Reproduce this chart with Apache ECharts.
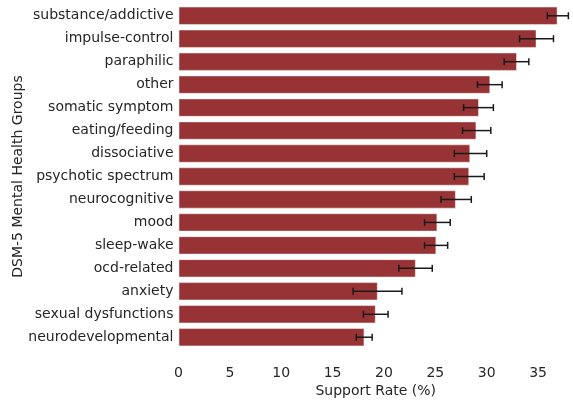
<!DOCTYPE html>
<html>
<head>
<meta charset="utf-8">
<script src="https://cdn.jsdelivr.net/npm/echarts@6/dist/echarts.min.js"></script>
<style>
  html, body { margin: 0; padding: 0; background: #fff; }
  #chart { width: 573px; height: 401px; }
</style>
</head>
<body>
<div id="chart"></div>
<script>
// DSM-5 groups, top to bottom
const groups = [
  'substance/addictive', 'impulse-control', 'paraphilic', 'other',
  'somatic symptom', 'eating/feeding', 'dissociative', 'psychotic spectrum',
  'neurocognitive', 'mood', 'sleep-wake', 'ocd-related', 'anxiety',
  'sexual dysfunctions', 'neurodevelopmental'
];
// Mean support rate (%)
const supportRate = [36.9, 34.85, 32.95, 30.35, 29.25, 29.0, 28.4, 28.3, 27.0, 25.2, 25.1, 23.1, 19.4, 19.2, 18.1];
// Lower / upper confidence bounds (%)
const ciLow  = [35.9, 33.2, 31.7, 29.1, 27.75, 27.65, 26.85, 26.85, 25.55, 23.95, 23.95, 21.45, 17.0, 18.0, 17.3];
const ciHigh = [37.95, 36.5, 34.1, 31.5, 30.65, 30.4, 30.0, 29.75, 28.5, 26.45, 26.2, 24.7, 21.75, 20.4, 18.85];
const xTicks = [0, 5, 10, 15, 20, 25, 30, 35];

const textColor = '#262626';
const font = 'DejaVu Sans';

const errData = groups.map((g, i) => [i, ciLow[i], ciHigh[i]]);

const chart = echarts.init(document.getElementById('chart'), null, { renderer: 'canvas' });
chart.setOption({
  animation: false,
  backgroundColor: '#ffffff',
  grid: {
    left: 178.5, right: 0, top: 4.3, bottom: 52.3,
    containLabel: false,
    outerBoundsMode: 'none'
  },
  xAxis: {
    type: 'value',
    min: 0,
    max: 38.4,
    interval: 5,
    name: 'Support Rate (%)',
    nameLocation: 'middle',
    nameGap: 36,
    nameMoveOverlap: false,
    nameTextStyle: { color: textColor, fontFamily: font, fontSize: 14 },
    axisLine: { show: false },
    axisTick: { show: false },
    splitLine: { show: false },
    axisLabel: {
      color: textColor, fontFamily: font, fontSize: 14, margin: 18,
      showMaxLabel: false,
      formatter: v => (xTicks.includes(v) ? String(v) : '')
    }
  },
  yAxis: {
    type: 'category',
    data: groups,
    inverse: true,
    name: 'DSM-5 Mental Health Groups',
    nameLocation: 'middle',
    nameGap: 153,
    nameMoveOverlap: false,
    nameRotate: 90,
    nameTextStyle: { color: textColor, fontFamily: font, fontSize: 14 },
    axisLine: { show: false },
    axisTick: { show: false },
    splitLine: { show: false },
    axisLabel: { color: textColor, fontFamily: font, fontSize: 14, margin: 5 }
  },
  series: [
    {
      type: 'bar',
      data: supportRate,
      barCategoryGap: '20%',
      itemStyle: { color: '#983335', borderColor: 'rgba(255,255,255,0.45)', borderWidth: 1 }
    },
    {
      type: 'custom',
      data: errData,
      z: 5,
      renderItem: function (params, api) {
        const idx = api.value(0);
        const lo = api.coord([api.value(1), idx]);
        const hi = api.coord([api.value(2), idx]);
        const cap = 3.5;
        const style = { stroke: '#1a1a1a', lineWidth: 1.5 };
        return {
          type: 'group',
          children: [
            { type: 'line', shape: { x1: lo[0], y1: lo[1], x2: hi[0], y2: hi[1] }, style },
            { type: 'line', shape: { x1: lo[0], y1: lo[1] - cap, x2: lo[0], y2: lo[1] + cap }, style },
            { type: 'line', shape: { x1: hi[0], y1: hi[1] - cap, x2: hi[0], y2: hi[1] + cap }, style }
          ]
        };
      },
      encode: { x: [1, 2], y: 0 }
    }
  ]
});
</script>
</body>
</html>
